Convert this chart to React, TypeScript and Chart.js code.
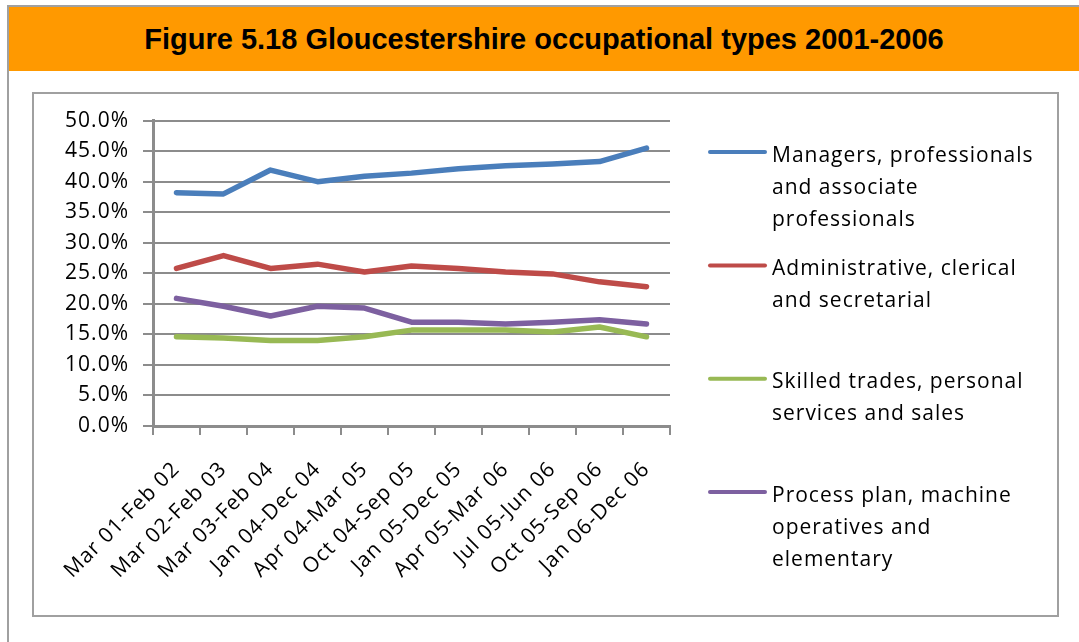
import React, { useEffect, useRef } from "react";
import { Chart, registerables } from "chart.js";

Chart.register(...registerables);

const titleText = "Figure 5.18 Gloucestershire occupational types 2001-2006";

const categories = [
  "Mar 01-Feb 02",
  "Mar 02-Feb 03",
  "Mar 03-Feb 04",
  "Jan 04-Dec 04",
  "Apr 04-Mar 05",
  "Oct 04-Sep 05",
  "Jan 05-Dec 05",
  "Apr 05-Mar 06",
  "Jul 05-Jun 06",
  "Oct 05-Sep 06",
  "Jan 06-Dec 06",
];

const managers = [38.2, 38.0, 41.9, 40.0, 40.9, 41.4, 42.1, 42.6, 42.9, 43.3, 45.5];
const administrative = [25.8, 27.9, 25.8, 26.5, 25.2, 26.2, 25.8, 25.2, 24.9, 23.6, 22.8];
const skilled = [14.6, 14.4, 14.0, 14.0, 14.6, 15.7, 15.7, 15.7, 15.4, 16.2, 14.6];
const processPlant = [20.9, 19.6, 18.0, 19.6, 19.3, 17.0, 17.0, 16.7, 17.0, 17.4, 16.7];

const seriesNames = [
  "Managers, professionals and associate professionals",
  "Administrative, clerical and secretarial",
  "Skilled trades, personal services and sales",
  "Process plan, machine operatives and elementary",
];
const legendLines = [
  ["Managers, professionals", "and associate", "professionals"],
  ["Administrative, clerical", "and secretarial"],
  ["Skilled trades, personal", "services and sales"],
  ["Process plan, machine", "operatives and", "elementary"],
];
const seriesColors = ["#4a7ebb", "#be4b48", "#98b954", "#7d60a0"];

const yMin = 0;
const yMax = 50;
const yStep = 5;

const FONT = "'Open Sans', 'Noto Sans', sans-serif";

const spacingPlugin = {
  id: "spacing",
  beforeDraw(chart: any) {
    chart.ctx.letterSpacing = "1px";
  },
};

const sideLegend = {
  id: "sideLegend",
  afterDraw(chart: any) {
    const ctx = chart.ctx as CanvasRenderingContext2D;
    const area = chart.chartArea;
    ctx.save();
    (ctx as any).letterSpacing = "1px";
    const lineX0 = area.right + 40;
    const lineX1 = area.right + 95;
    const textX = area.right + 102;
    chart.data.datasets.forEach((ds: any, i: number) => {
      const y = area.top + 31.5 + i * 113.3;
      ctx.strokeStyle = ds.borderColor;
      ctx.lineWidth = 4;
      ctx.lineCap = "round";
      ctx.beginPath();
      ctx.moveTo(lineX0, y);
      ctx.lineTo(lineX1, y);
      ctx.stroke();
      ctx.fillStyle = "#000";
      ctx.font = `21px ${FONT}`;
      ctx.textAlign = "left";
      ctx.textBaseline = "alphabetic";
      legendLines[i].forEach((line, j) => {
        ctx.fillText(line, textX, y + 9.5 + j * 32);
      });
    });
    ctx.restore();
  },
};

export default function App() {
  const ref = useRef<HTMLCanvasElement>(null);

  useEffect(() => {
    document.body.style.margin = "0";
    const datasets = [managers, administrative, skilled, processPlant].map((data, i) => ({
      label: seriesNames[i],
      data,
      borderColor: seriesColors[i],
      backgroundColor: seriesColors[i],
      borderWidth: 5.5,
      pointRadius: 0,
      pointHoverRadius: 0,
      tension: 0,
      borderCapStyle: "round" as const,
      borderJoinStyle: "round" as const,
      fill: false,
    }));
    const chart = new Chart(ref.current!, {
      type: "line",
      data: { labels: categories, datasets },
      plugins: [spacingPlugin, sideLegend],
      options: {
        responsive: false,
        animation: false,
        maintainAspectRatio: false,
        layout: { padding: { top: 26.5, right: 387, left: 0, bottom: 0 } },
        plugins: {
          legend: { display: false },
          title: { display: false },
          tooltip: { enabled: false },
        },
        scales: {
          x: {
            offset: true,
            afterFit: (scale: any) => {
              scale.height = 189;
            },
            grid: {
              offset: true,
              drawOnChartArea: false,
              drawTicks: true,
              tickLength: 9,
              color: "#8c8c8c",
              lineWidth: 2,
            },
            border: { display: true, color: "#8c8c8c", width: 3 },
            ticks: {
              autoSkip: false,
              maxRotation: 45,
              minRotation: 45,
              padding: 22,
              color: "#000",
              font: { family: FONT, size: 21 },
            },
          },
          y: {
            min: yMin,
            max: yMax,
            afterFit: (scale: any) => {
              scale.width = 119;
            },
            grid: {
              color: "#8c8c8c",
              lineWidth: 2,
              tickLength: 10,
              drawTicks: true,
            },
            border: { display: true, color: "#8c8c8c", width: 3 },
            ticks: {
              stepSize: yStep,
              padding: 14,
              color: "#000",
              font: { family: FONT, size: 21 },
              callback: (v: any) => Number(v).toFixed(1) + "%",
            },
          },
        },
      },
    });
    return () => chart.destroy();
  }, []);

  return (
    <div
      style={{
        position: "relative",
        width: 1079,
        height: 642,
        background: "#fff",
        overflow: "hidden",
      }}
    >
      <div style={{ position: "absolute", left: 7, top: 5, right: 0, height: 2, background: "#a0a0a0" }} />
      <div style={{ position: "absolute", left: 7, top: 5, width: 2, bottom: 0, background: "#a0a0a0" }} />
      <div
        style={{
          position: "absolute",
          left: 9,
          top: 7,
          right: 0,
          height: 64,
          background: "#ff9900",
          textAlign: "center",
          fontFamily: "'Liberation Sans', Arial, sans-serif",
          fontWeight: "bold",
          fontSize: 29,
          lineHeight: "64px",
          color: "#000",
        }}
      >
        {titleText}
      </div>
      <div
        style={{
          position: "absolute",
          left: 32,
          top: 92,
          width: 1023,
          height: 521,
          border: "2px solid #a0a0a0",
        }}
      >
        <canvas ref={ref} width={1023} height={521} style={{ display: "block", width: 1023, height: 521 }} />
      </div>
    </div>
  );
}
